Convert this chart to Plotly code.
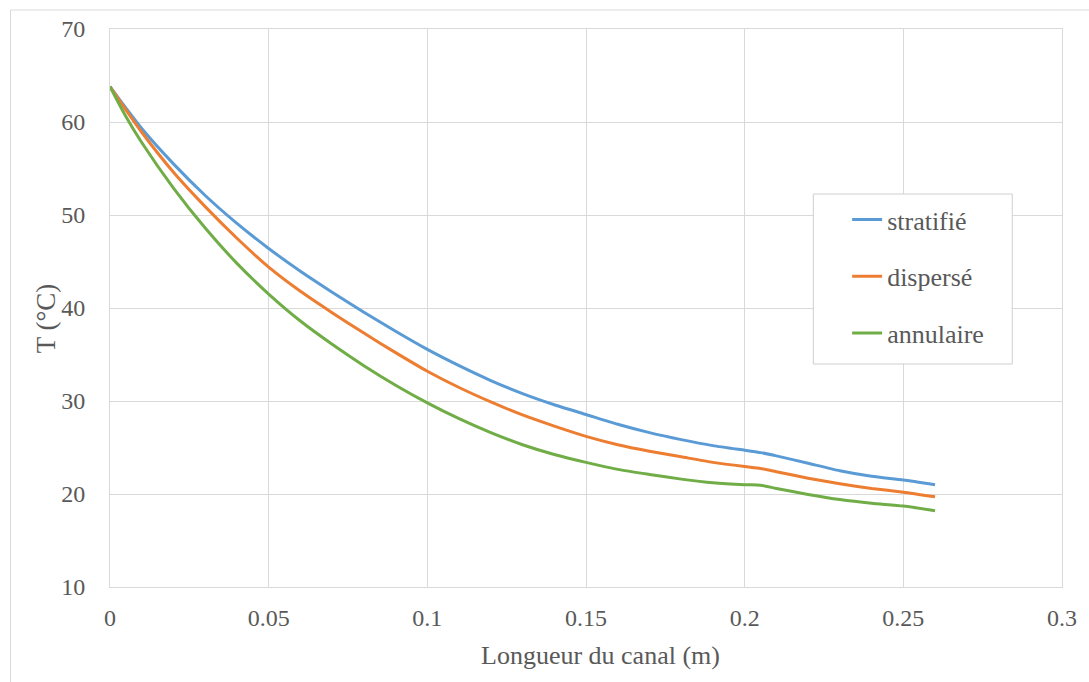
import plotly.graph_objects as go

x_m = [0, 0.005, 0.01, 0.02, 0.03, 0.04, 0.05, 0.06, 0.07, 0.08, 0.09, 0.10,
       0.11, 0.12, 0.13, 0.14, 0.15, 0.16, 0.17, 0.18, 0.19, 0.20, 0.205,
       0.21, 0.22, 0.23, 0.24, 0.25, 0.26]

stratifie = [63.8, 61.5, 59.3, 55.5, 52.1, 49.1, 46.4, 43.95, 41.7, 39.55, 37.5, 35.55,
             33.8, 32.2, 30.8, 29.6, 28.55, 27.5, 26.6, 25.85, 25.2, 24.7, 24.45,
             24.1, 23.3, 22.5, 21.9, 21.5, 21.0]

disperse = [63.8, 61.3, 58.9, 54.6, 50.9, 47.5, 44.4, 41.8, 39.5, 37.3, 35.2, 33.2,
            31.45, 29.9, 28.5, 27.3, 26.2, 25.3, 24.6, 24.0, 23.4, 22.95, 22.75,
            22.4, 21.7, 21.1, 20.6, 20.2, 19.7]

annulaire = [63.8, 60.6, 57.8, 52.9, 48.6, 44.8, 41.5, 38.6, 36.1, 33.8, 31.7, 29.8,
             28.1, 26.6, 25.3, 24.25, 23.4, 22.65, 22.1, 21.6, 21.2, 21.0, 20.95,
             20.6, 19.95, 19.4, 19.0, 18.7, 18.2]

series_names = ["stratifié", "dispersé", "annulaire"]
series_colors = ["#5B9BD5", "#ED7D31", "#70AD47"]

x_ticks = [0, 0.05, 0.1, 0.15, 0.2, 0.25, 0.3]
x_tick_labels = ["0", "0.05", "0.1", "0.15", "0.2", "0.25", "0.3"]
y_ticks = [10, 20, 30, 40, 50, 60, 70]

x_title = "Longueur du canal (m)"
y_title = "T (°C)"

FONT = "'Liberation Serif', 'Times New Roman', Times, serif"
TXT = "#595959"
GRID = "#d9d9d9"

W, H = 1089, 682
L, R, T, B = 110, 22, 29, 95
pw, ph = W - L - R, H - T - B


def px_x(p):
    return (p - L) / pw


def px_y(p):
    return (H - B - p) / ph


fig = go.Figure()
for i, (name, ys) in enumerate(zip(series_names, [stratifie, disperse, annulaire])):
    fig.add_trace(go.Scatter(
        x=x_m, y=ys, mode="lines", name=name, legendgroup=f"g{i}",
        line=dict(color=series_colors[i], width=3, shape="spline", smoothing=0.6),
    ))

# outer chart border
fig.add_shape(type="rect", xref="paper", yref="paper",
              x0=px_x(10), x1=px_x(1100), y0=px_y(700), y1=px_y(10),
              line=dict(color=GRID, width=1), fillcolor="rgba(0,0,0,0)", layer="below")
# legend box
fig.add_shape(type="rect", xref="paper", yref="paper",
              x0=px_x(817), x1=px_x(1017), y0=px_y(364), y1=px_y(194),
              line=dict(color="#cfcfcf", width=1), fillcolor="white", layer="above")

# axis titles
fig.add_annotation(text=x_title, xref="paper", yref="paper",
                   x=px_x(603), y=px_y(656), xanchor="center", yanchor="middle",
                   showarrow=False, font=dict(family=FONT, size=26, color=TXT))
fig.add_annotation(text=y_title, xref="paper", yref="paper", textangle=-90,
                   x=px_x(46), y=px_y(318), xanchor="center", yanchor="middle",
                   showarrow=False, font=dict(family=FONT, size=27, color=TXT))

fig.update_layout(
    width=W, height=H,
    margin=dict(l=L, r=R, t=T, b=B),
    paper_bgcolor="white", plot_bgcolor="white",
    font=dict(family=FONT, size=24, color=TXT),
    showlegend=True,
    legend=dict(x=px_x(851), y=px_y(196), xanchor="left", yanchor="top",
                bgcolor="rgba(0,0,0,0)", borderwidth=0,
                font=dict(family=FONT, size=26, color=TXT),
                tracegroupgap=20, itemwidth=30),
    xaxis=dict(range=[0, 0.3], tickvals=x_ticks, ticktext=x_tick_labels,
               showgrid=True, gridcolor=GRID, gridwidth=1,
               showline=True, linecolor=GRID, linewidth=1, mirror=True,
               zeroline=False, ticks="", ticklabelstandoff=9,
               tickfont=dict(family=FONT, size=24, color=TXT)),
    yaxis=dict(range=[10, 70], tickvals=y_ticks,
               showgrid=True, gridcolor=GRID, gridwidth=1,
               showline=True, linecolor=GRID, linewidth=1, mirror=True,
               zeroline=False, ticks="", ticklabelstandoff=19,
               tickfont=dict(family=FONT, size=24, color=TXT)),
)

fig.write_html("out.html", config={"displayModeBar": False},
               post_script="document.body.style.margin='0';document.body.style.padding='0';")
